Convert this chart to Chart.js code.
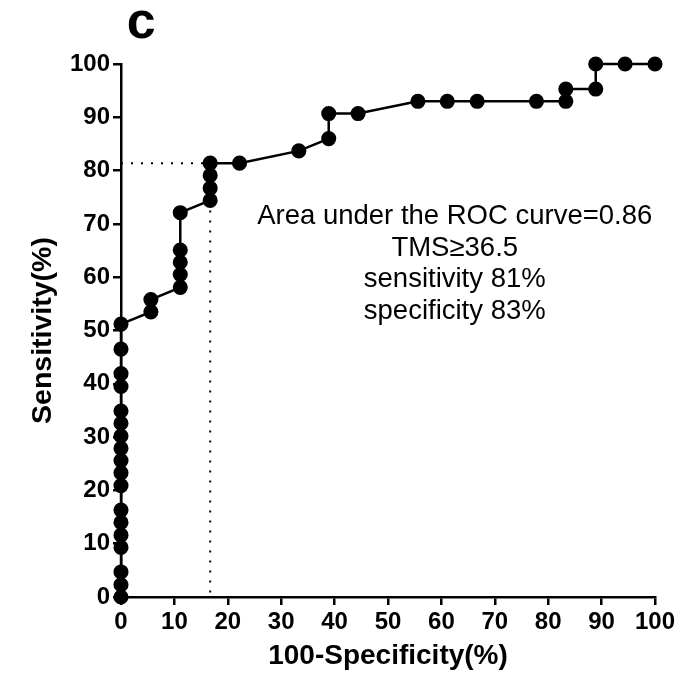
<!DOCTYPE html>
<html>
<head>
<meta charset="utf-8">
<script src="https://cdn.jsdelivr.net/npm/chart.js@4.4.1/dist/chart.umd.min.js"></script>
<style>
  body { margin: 0; background: #fff; }
  #wrap { width: 693px; height: 676px; position: relative; }
</style>
</head>
<body>
<div id="wrap"><canvas id="rocChart"></canvas></div>
<script>
// ROC curve points
var falsePosRate = [0, 0, 0, 0, 0, 0, 0, 0, 0, 0, 0, 0, 0, 0, 0, 0, 0, 0,
    5.6, 5.6, 11.1, 11.1, 11.1, 11.1, 11.1, 16.7, 16.7, 16.7, 16.7,
    22.2, 33.3, 38.9, 38.9, 44.4, 55.6, 61.1, 66.7, 77.8, 83.3, 83.3,
    88.9, 88.9, 94.4, 100];
var truePosRate = [0, 2.3, 4.7, 9.3, 11.6, 14.0, 16.3, 20.9, 23.3, 25.6, 27.9, 30.2, 32.6, 34.9, 39.5, 41.9, 46.5, 51.2,
    53.5, 55.8, 58.1, 60.5, 62.8, 65.1, 72.1, 74.4, 76.7, 79.1, 81.4,
    81.4, 83.7, 86.0, 90.7, 90.7, 93.0, 93.0, 93.0, 93.0, 93.0, 95.3,
    95.3, 100, 100, 100];

// cut-off point guide lines
var cutX = [0, 16.7];
var cutY = [81.4, 0];

var xTicks = [0, 10, 20, 30, 40, 50, 60, 70, 80, 90, 100];
var yTicks = [0, 10, 20, 30, 40, 50, 60, 70, 80, 90, 100];

var noteLines = ['Area under the ROC curve=0.86', 'TMS\u226536.5', 'sensitivity 81%', 'specificity 83%'];

var fontFamily = '"Liberation Sans", Arial, Helvetica, sans-serif';

var rocPoints = falsePosRate.map(function(x, i) { return { x: x, y: truePosRate[i] }; });

// dotted guides: horizontal then vertical
var hGuide = [{ x: cutX[0], y: cutY[0] }, { x: cutX[1], y: cutY[0] }];
var vGuide = [{ x: cutX[1], y: truePosRate[25] }, { x: cutX[1], y: cutY[1] }];

var textPlugin = {
    id: 'textPlugin',
    afterDraw: function(chart) {
        var ctx = chart.ctx;
        var xs = chart.scales.x, ys = chart.scales.y;
        ctx.save();
        ctx.fillStyle = '#000';
        // panel letter
        ctx.font = 'bold 52px ' + fontFamily;
        ctx.textAlign = 'center';
        ctx.textBaseline = 'middle';
        ctx.fillText('c', xs.getPixelForValue(3.8), 24);
        // annotation
        ctx.font = '27.5px ' + fontFamily;
        var cx = xs.getPixelForValue(62.5);
        var startY = ys.getPixelForValue(71.4);
        for (var i = 0; i < noteLines.length; i++) {
            ctx.fillText(noteLines[i], cx, startY + i * 31.7);
        }
        ctx.restore();
    }
};

var ctx = document.getElementById('rocChart').getContext('2d');
var rocChart = new Chart(ctx, {
    type: 'scatter',
    data: {
        datasets: [{
            data: rocPoints,
            showLine: true,
            borderColor: '#000',
            borderWidth: 2.5,
            backgroundColor: '#000',
            pointRadius: 6.3,
            pointHoverRadius: 6.3,
            clip: false,
            order: 1
        }, {
            data: hGuide,
            showLine: true,
            borderColor: '#000',
            borderWidth: 2,
            borderDash: [2, 8],
            pointRadius: 0,
            clip: false,
            order: 2
        }, {
            data: vGuide,
            showLine: true,
            borderColor: '#000',
            borderWidth: 2,
            borderDash: [2, 8],
            pointRadius: 0,
            clip: false,
            order: 2
        }]
    },
    options: {
        responsive: true,
        maintainAspectRatio: false,
        animation: false,
        layout: { padding: { left: 26, right: 38, top: 64, bottom: 3 } },
        plugins: {
            legend: { display: false },
            tooltip: { enabled: false }
        },
        scales: {
            x: {
                type: 'linear',
                min: 0,
                max: 100,
                afterBuildTicks: function(scale) {
                    scale.ticks = xTicks.map(function(v) { return { value: v }; });
                },
                afterFit: function(scale) { scale.height = 76; },
                border: { display: true, color: '#000', width: 2.5 },
                grid: { drawOnChartArea: false, drawTicks: true, tickLength: 8, color: '#000', lineWidth: 2.5 },
                ticks: {
                    color: '#000',
                    padding: 3,
                    maxRotation: 0,
                    font: { family: fontFamily, size: 24, weight: 'bold' }
                },
                title: {
                    display: true,
                    text: '100-Specificity(%)',
                    color: '#000',
                    padding: 0,
                    font: { family: fontFamily, size: 28, weight: 'bold' }
                }
            },
            y: {
                type: 'linear',
                min: 0,
                max: 100,
                afterBuildTicks: function(scale) {
                    scale.ticks = yTicks.map(function(v) { return { value: v }; });
                },
                afterFit: function(scale) { scale.width = 95; },
                border: { display: true, color: '#000', width: 2.5 },
                grid: { drawOnChartArea: false, drawTicks: true, tickLength: 8, color: '#000', lineWidth: 2.5 },
                ticks: {
                    color: '#000',
                    padding: 3,
                    font: { family: fontFamily, size: 24, weight: 'bold' }
                },
                title: {
                    display: true,
                    text: 'Sensitivity(%)',
                    color: '#000',
                    padding: 0,
                    font: { family: fontFamily, size: 28.5, weight: 'bold' }
                }
            }
        }
    },
    plugins: [textPlugin]
});
</script>
</body>
</html>
